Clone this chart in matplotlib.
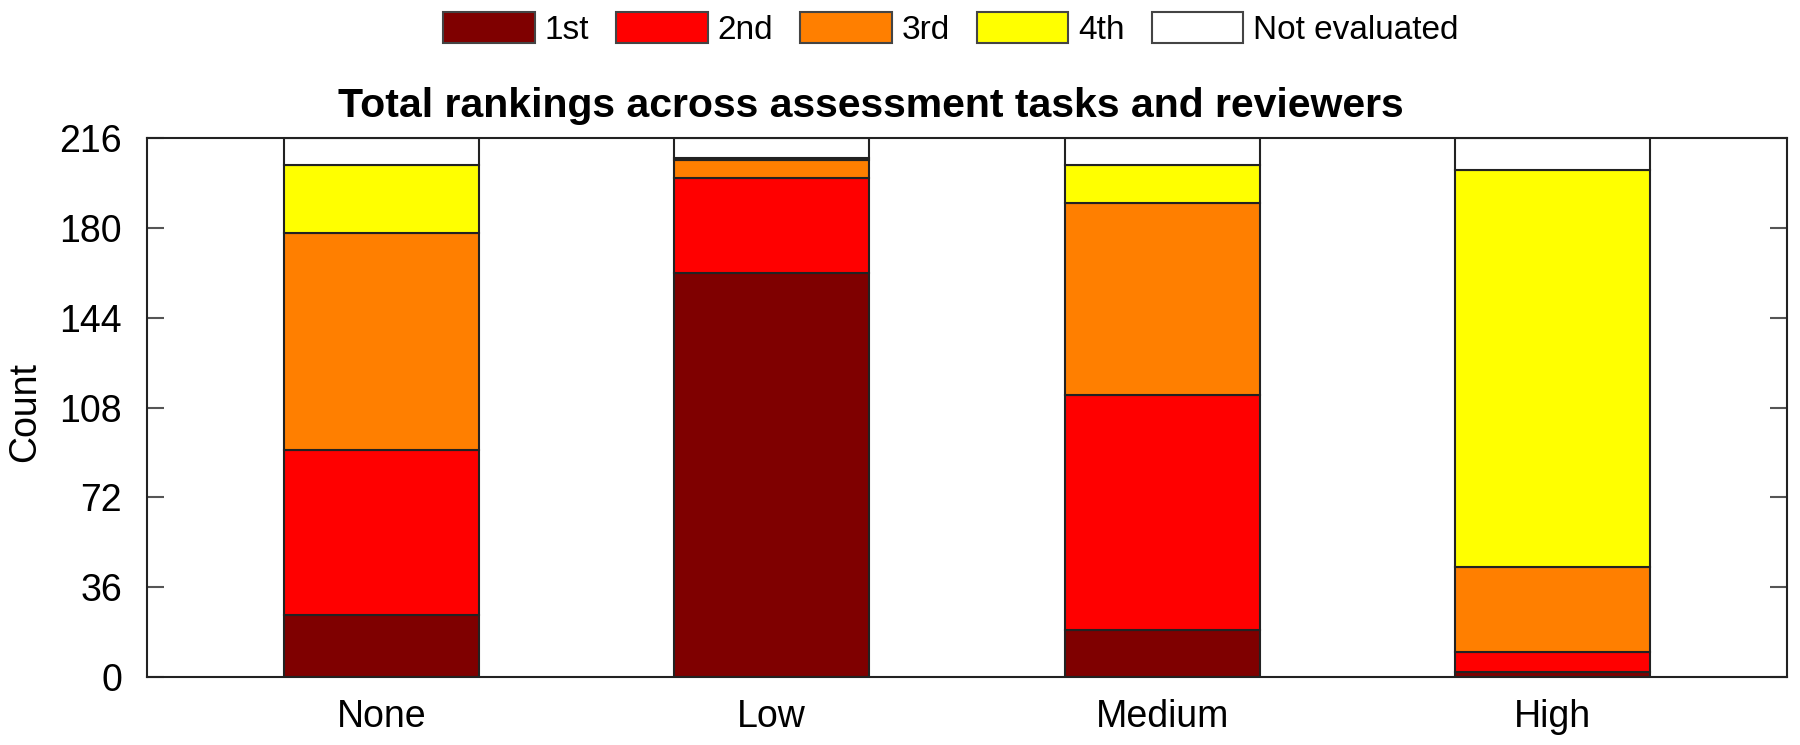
import matplotlib
matplotlib.use("Agg")
import matplotlib.pyplot as plt
import numpy as np

plt.rcParams['font.family'] = ['Liberation Sans', 'DejaVu Sans']

categories = ["None", "Low", "Medium", "High"]
series_names = ["1st", "2nd", "3rd", "4th", "Not evaluated"]
first = [25, 162, 19, 2]
second = [66, 38, 94, 8]
third = [87, 7, 77, 34]
fourth = [27, 1, 15, 159]
not_evaluated = [11, 8, 11, 13]
colors = ["#7f0000", "#ff0000", "#ff7f00", "#ffff00", "#ffffff"]
yticks = [0, 36, 72, 108, 144, 180, 216]

fig = plt.figure(figsize=(18, 7.45), dpi=100)
ax = fig.add_axes([147/1800, (745-677)/745, (1787-147)/1800, (677-138)/745])

x = np.arange(len(categories))
bottom = np.zeros(len(categories))
handles = []
for name, vals, c in zip(series_names, [first, second, third, fourth, not_evaluated], colors):
    b = ax.bar(x, vals, width=0.5, bottom=bottom, color=c, edgecolor="#222222",
               linewidth=1.5, label=name, zorder=2)
    handles.append(b)
    bottom += np.array(vals)

ax.set_xlim(-0.6, 3.6)
ax.set_ylim(0, 216)
ax.set_yticks(yticks)
ax.set_xticks(x)
ax.set_xticklabels(categories)
ax.tick_params(axis='both', direction='in', length=12, width=1.5, color="#555555",
               labelsize=27, top=True, right=True)
ax.tick_params(axis='x', pad=16)
ax.tick_params(axis='y', pad=18)
for s in ax.spines.values():
    s.set_linewidth(1.5)
    s.set_color("#222222")
    s.set_zorder(3)

fig.text(25/1800, (745-412)/745, "Count", rotation=90, ha='center', va='center', fontsize=27)

fig.text(871/1800, (745-106)/745, "Total rankings across assessment tasks and reviewers",
         ha='center', va='center', fontsize=29.5, fontweight='bold')

leg = fig.legend(handles=handles, labels=series_names, loc='center',
                 bbox_to_anchor=(951/1800, (745-29)/745), ncol=5, frameon=False,
                 fontsize=24, handlelength=2.75, handleheight=1.05,
                 handletextpad=0.3, columnspacing=0.8)
for h in leg.legend_handles:
    h.set_edgecolor("#444444")
    h.set_linewidth(1.5)

fig.savefig("out.png", dpi=100)
